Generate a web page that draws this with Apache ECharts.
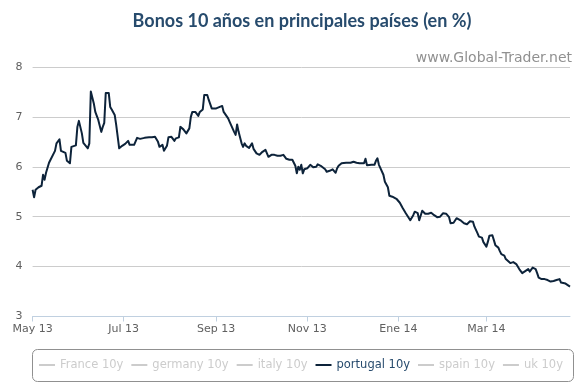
<!DOCTYPE html>
<html>
<head>
<meta charset="utf-8">
<script src="https://cdn.jsdelivr.net/npm/echarts@6/dist/echarts.min.js"></script>
<style>html,body{margin:0;padding:0;background:#fff}#c{width:588px;height:386px}</style>
</head>
<body>
<div id="c"></div>
<script>
// ---- data ----
// x values are days since 1 May 2013
var seriesNames = ['France 10y', 'germany 10y', 'italy 10y', 'portugal 10y', 'spain 10y', 'uk 10y'];
var portugalDays = [
0,1,2,3,4,6,7,8,9,11,12,13,15,16,17,18,19,20,22,23,25,26,27,29,30,31,33,34,35,37,38,39,41,42,43,44,46,47,48,49,51,52,53,54,55,56,57,58,60,62,64,65,68,69,70,72,73,75,76,78,80,82,84,85,86,87,88,90,91,93,95,96,98,99,101,102,103,105,106,107,109,110,111,112,114,115,117,118,120,121,123,124,127,128,129,131,132,133,135,136,137,138,140,141,142,143,144,145,147,148,149,150,152,153,154,156,157,158,160,161,162,164,165,166,168,169,170,172,174,175,176,177,178,179,180,181,182,184,185,186,188,190,191,193,194,196,197,199,200,201,203,204,205,207,208,210,211,213,215,216,217,219,220,222,223,224,225,227,229,230,231,232,233,235,236,237,238,239,241,242,244,245,246,248,249,250,251,253,254,255,256,257,258,259,261,262,263,265,266,267,269,270,271,273,274,275,277,278,279,280,282,283,284,285,287,288,289,291,292,293,295,296,298,299,301,302,304,305,306,308,309,310,312,313,314,316,317,318,320,321,322,324,325,326,328,329,330,332,333,334,335,337,338,339,341,342,343,345,346,347,349,350,351,353,354,355,357,358,359,360
];
var portugalValues = [
5.54,5.39,5.54,5.52,5.59,5.62,5.84,5.74,5.88,6.08,6.14,6.15,6.32,6.47,6.46,6.55,6.32,6.32,6.28,6.12,6.07,6.40,6.43,6.43,6.80,6.92,6.67,6.48,6.44,6.37,6.47,7.51,7.27,7.10,7.12,6.94,6.70,6.80,6.88,7.48,7.48,7.20,7.15,7.17,7.04,6.84,6.80,6.37,6.42,6.46,6.52,6.44,6.44,6.42,6.58,6.56,6.59,6.58,6.60,6.59,6.59,6.60,6.50,6.40,6.37,6.44,6.32,6.42,6.59,6.60,6.52,6.57,6.59,6.80,6.75,6.74,6.67,6.77,7.00,7.10,7.10,7.06,7.02,7.10,7.15,7.44,7.44,7.34,7.17,7.21,7.17,7.21,7.22,7.10,7.07,6.97,6.90,6.87,6.70,6.64,6.85,6.70,6.47,6.40,6.47,6.42,6.45,6.38,6.47,6.36,6.34,6.27,6.24,6.27,6.30,6.34,6.27,6.20,6.24,6.22,6.24,6.22,6.24,6.22,6.24,6.27,6.16,6.14,6.14,6.10,6.02,5.87,6.00,5.94,6.04,5.87,5.95,5.97,5.97,6.04,5.99,6.00,6.05,6.02,5.98,5.95,5.90,5.92,5.88,5.95,5.88,5.97,6.02,6.07,6.10,6.08,6.04,6.08,6.10,6.07,6.08,6.07,6.05,6.07,6.16,6.03,6.04,6.04,6.04,6.12,6.17,6.04,6.00,5.84,5.70,5.67,5.59,5.42,5.40,5.37,5.35,5.32,5.28,5.17,5.13,5.07,5.03,4.93,4.90,5.03,5.10,5.13,5.07,4.93,5.12,5.12,5.06,5.06,5.07,5.08,5.03,5.00,4.99,5.00,5.03,5.07,5.06,5.02,4.99,4.87,4.88,4.90,4.97,4.93,4.92,4.90,4.87,4.85,4.89,4.91,4.90,4.80,4.67,4.60,4.58,4.49,4.40,4.50,4.62,4.63,4.53,4.43,4.38,4.31,4.25,4.22,4.15,4.11,4.07,4.07,4.09,4.05,4.00,3.95,3.87,3.90,3.91,3.95,3.90,3.93,3.98,3.95,3.87,3.78,3.75,3.77,3.75,3.73,3.70,3.70,3.71,3.70,3.73,3.75,3.68,3.66,3.66,3.63,3.62,3.60
];
var tickDays = [0, 61, 123, 184, 245, 304];
var tickLabels = ['May 13', 'Jul 13', 'Sep 13', 'Nov 13', 'Ene 14', 'Mar 14'];
var yMin = 3, yMax = 8, yStep = 1;

// ---- build chart ----
var labelMap = {};
tickDays.forEach(function (t, i) { labelMap[t] = tickLabels[i]; });
var portugalData = portugalDays.map(function (d, i) { return [d, portugalValues[i]]; });

var FONT = 'DejaVu Sans';
var selected = {};
seriesNames.forEach(function (n) { selected[n] = (n === 'portugal 10y'); });

var series = seriesNames.map(function (n) {
  return {
    name: n, type: 'line', showSymbol: false, symbol: 'none',
    data: n === 'portugal 10y' ? portugalData : [],
    lineStyle: { width: 2, color: '#0d233a', join: 'round' },
    itemStyle: { color: '#0d233a' },
    emphasis: { disabled: true }
  };
});

var chart = echarts.init(document.getElementById('c'), null, { renderer: 'canvas' });
chart.setOption({
  animation: false,
  backgroundColor: '#ffffff',
  grid: { left: 32.6, right: 18, top: 67, bottom: 69.5, containLabel: false },
  xAxis: {
    type: 'value',
    min: portugalDays[0],
    max: portugalDays[portugalDays.length - 1],
    axisLine: { lineStyle: { color: '#C0D0E0', width: 1 } },
    axisTick: { show: true, length: 5, lineStyle: { color: '#C0D0E0' }, customValues: tickDays },
    axisLabel: {
      customValues: tickDays,
      color: '#606060', fontFamily: FONT, fontSize: 11, margin: 7,
      formatter: function (v) { return labelMap[v] || ''; }
    },
    splitLine: { show: false }
  },
  yAxis: {
    type: 'value', min: yMin, max: yMax, interval: yStep,
    axisLine: { show: false }, axisTick: { show: false },
    axisLabel: { color: '#606060', fontFamily: FONT, fontSize: 11, margin: 10 },
    splitLine: { lineStyle: { color: '#CCCCCC', width: 1 } }
  },
  legend: {
    data: seriesNames.map(function (n) { return { name: n, icon: 'rect' }; }),
    selected: selected,
    left: 39, top: 359, padding: 0,
    itemWidth: 16, itemHeight: 2, itemGap: 8,
    inactiveColor: '#CCCCCC',
    textStyle: { color: '#274b6d', fontFamily: FONT, fontSize: 11.5 },
    selectedMode: true
  },
  graphic: [
    { type: 'text', x: 302, y: 21, silent: true,
      style: { text: 'Bonos 10 años en principales países (en %)', align: 'center', verticalAlign: 'middle',
        fontFamily: 'Lato', fontWeight: 'bold', fontSize: 18, fill: '#274b6d' } },
    { type: 'text', x: 572, y: 58, silent: true,
      style: { text: 'www.Global-Trader.net', align: 'right', verticalAlign: 'middle',
        fontFamily: FONT, fontSize: 14, fill: '#909090' } },
    { type: 'rect', silent: true, shape: { x: 32.5, y: 349.5, width: 541, height: 32, r: 5 },
      style: { fill: 'none', stroke: '#909090', lineWidth: 1 } }
  ],
  series: series
});
</script>
</body>
</html>
